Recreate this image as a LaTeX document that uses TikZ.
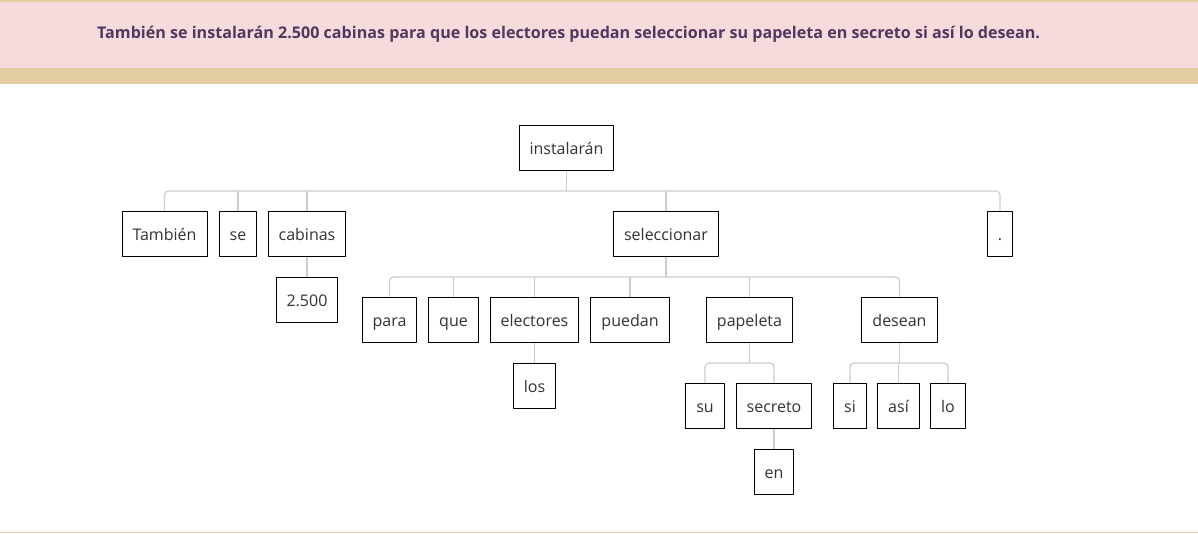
\documentclass[tikz,border=0pt]{standalone}
\usepackage{fontspec}
\setmainfont{Open Sans}
\definecolor{bandpink}{RGB}{247,219,220}
\definecolor{bandgold}{RGB}{225,205,160}
\definecolor{headtext}{RGB}{82,56,96}
\definecolor{wordtext}{RGB}{51,51,51}
\definecolor{linkgrey}{RGB}{204,204,204}
\tikzset{
  word/.style={draw=black, line width=1pt, text=wordtext, minimum height=45pt, inner xsep=10.5pt, text height=14pt, text depth=0pt, font=\fontsize{16pt}{19pt}\selectfont},
  link/.style={draw=linkgrey, line width=1.2pt, rounded corners=4pt}
}
\begin{document}
\begin{tikzpicture}[x=1pt, y=-1pt, line join=round]
	\useasboundingbox (0,0) rectangle (1198,533);
	% cabecera
	\fill[bandgold] (0,0) rectangle (1198,84);
	\fill[bandpink] (0,2) rectangle (1198,68);
	\fill[bandgold] (0,531.5) rectangle (1198,533);
	\node[anchor=west, text=headtext, font=\fontsize{16.1pt}{19pt}\selectfont\bfseries, inner sep=0pt] (frase) at (97,34) {También se instalarán 2.500 cabinas para que los electores puedan seleccionar su papeleta en secreto si así lo desean.};
	% palabras
	\node[word] (inst) at (566.5,147.5) {instalarán};
	\node[word] (tamb) at (164.5,233.5) {También};
	\node[word] (se) at (238,233.5) {se};
	\node[word] (cab) at (307,233.5) {cabinas};
	\node[word] (sel) at (666,233.5) {seleccionar};
	\node[word] (pto) at (1000,233.5) {.};
	\node[word] (num) at (307,299.5) {2.500};
	\node[word] (para) at (389.5,319.5) {para};
	\node[word] (que) at (453.5,319.5) {que};
	\node[word] (elec) at (534.5,319.5) {electores};
	\node[word] (pued) at (630,319.5) {puedan};
	\node[word] (pap) at (749.5,319.5) {papeleta};
	\node[word] (des) at (899.5,319.5) {desean};
	\node[word] (los) at (534.5,385.5) {los};
	\node[word] (su) at (705,405.5) {su};
	\node[word] (secr) at (774,405.5) {secreto};
	\node[word] (si) at (850,405.5) {si};
	\node[word] (asi) at (898.5,405.5) {así};
	\node[word] (lo) at (948,405.5) {lo};
	\node[word] (en) at (774,471.5) {en};
	% barras
	\coordinate (busA) at (0,191);
	\coordinate (busB) at (0,277);
	\coordinate (busC) at (0,363);
	% conexiones
	\draw[link] (tamb.north) |- (pto.north |- busA) -- (pto.north);
	\draw[link] (inst.south) -- (inst.south |- busA);
	\foreach \n in {se,cab,sel} \draw[link] (\n.north) -- (\n.north |- busA);
	\draw[link] (para.north) |- (des.north |- busB) -- (des.north);
	\draw[link] (sel.south) -- (sel.south |- busB);
	\foreach \n in {que,elec,pued,pap} \draw[link] (\n.north) -- (\n.north |- busB);
	\draw[link] (su.north) |- (secr.north |- busC) -- (secr.north);
	\draw[link] (pap.south) -- (pap.south |- busC);
	\draw[link] (si.north) |- (lo.north |- busC) -- (lo.north);
	\draw[link] (des.south) -- (des.south |- busC);
	\draw[link] (asi.north) -- (asi.north |- busC);
	\draw[link] (cab.south) -- (num.north);
	\draw[link] (elec.south) -- (los.north);
	\draw[link] (secr.south) -- (en.north);
\end{tikzpicture}
\end{document}
